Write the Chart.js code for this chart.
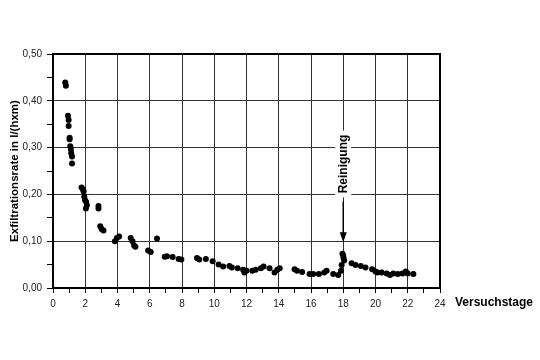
<!DOCTYPE html>
<html>
<head>
<meta charset="utf-8">
<script src="https://cdn.jsdelivr.net/npm/chart.js@4.4.1/dist/chart.umd.min.js"></script>
<style>
  html, body { margin: 0; background: #fff; }
</style>
</head>
<body>
<canvas id="chart" width="540" height="360"></canvas>
<script>
// Versuchstage (x) und Exfiltrationsrate in l/(hxm) (y)
const days = [
  0.76, 0.80, 0.93, 0.97, 0.97, 1.03, 1.03, 1.07, 1.11, 1.13, 1.18, 1.18,
  1.77, 1.86, 1.90, 1.94, 1.98, 2.06, 2.10, 2.04, 2.82, 2.82, 2.93, 3.01, 3.13,
  3.84, 3.96, 4.10, 4.82, 4.93, 5.03, 5.11,
  5.90, 6.06, 6.45, 6.93, 7.07, 7.42, 7.79, 7.96, 8.93, 9.07, 9.48, 9.90, 10.27, 10.55,
  10.94, 11.09, 11.45, 11.79, 11.87, 12.00, 12.36, 12.57, 12.89, 13.06, 13.43, 13.74,
  13.91, 14.06, 14.98, 15.13, 15.45, 15.91,
  16.14, 16.49, 16.82, 16.97, 17.38, 17.69, 17.86, 17.90, 17.95, 18.00, 18.02, 18.06,
  18.52, 18.76, 19.09, 19.38, 19.79, 20.00,
  20.12, 20.38, 20.69, 20.90, 21.10, 21.38, 21.67, 21.88, 22.00, 22.35
];
const rates = [
  0.439, 0.432, 0.368, 0.359, 0.346, 0.321, 0.318, 0.303, 0.296, 0.288, 0.281, 0.266,
  0.215, 0.211, 0.206, 0.195, 0.188, 0.184, 0.177, 0.170, 0.175, 0.170, 0.132, 0.126, 0.123,
  0.100, 0.107, 0.110, 0.107, 0.100, 0.091, 0.088,
  0.080, 0.077, 0.106, 0.067, 0.068, 0.066, 0.062, 0.061, 0.064, 0.061, 0.062, 0.057, 0.050, 0.046,
  0.047, 0.044, 0.042, 0.039, 0.033, 0.037, 0.037, 0.039, 0.042, 0.046, 0.042, 0.033,
  0.039, 0.042, 0.040, 0.037, 0.034, 0.030,
  0.030, 0.030, 0.033, 0.037, 0.030, 0.028, 0.037, 0.049, 0.073, 0.069, 0.064, 0.059,
  0.053, 0.049, 0.047, 0.044, 0.040, 0.035,
  0.033, 0.033, 0.031, 0.028, 0.031, 0.030, 0.031, 0.035, 0.031, 0.030
];

const xMin = 0, xMax = 24, xLabelStep = 2;
const yMin = 0, yMax = 0.5, yLabelStep = 0.1;
const cleaningDay = 18;
const cleaningLabel = 'Reinigung';
const xTitle = 'Versuchstage';
const yTitle = 'Exfiltrationsrate in l/(hxm)';

const fontFamily = '"Liberation Sans", Arial, sans-serif';

// Rahmen, Pfeil "Reinigung" und Beschriftung "Versuchstage"
const decorations = {
  id: 'decorations',
  afterDraw(chart) {
    const { ctx, chartArea: a, scales } = chart;
    ctx.save();
    ctx.strokeStyle = '#000';
    ctx.lineWidth = 2;
    ctx.strokeRect(a.left, a.top, a.right - a.left, a.bottom - a.top);

    const x = scales.x.getPixelForValue(cleaningDay);
    const textMid = scales.y.getPixelForValue(0.265);
    ctx.font = 'bold 12px ' + fontFamily;
    const w = ctx.measureText(cleaningLabel).width;
    ctx.fillStyle = '#fff';
    ctx.fillRect(x - 8, textMid - w / 2 - 4, 16, w + 8);

    ctx.translate(x, textMid);
    ctx.rotate(-Math.PI / 2);
    ctx.fillStyle = '#000';
    ctx.textAlign = 'center';
    ctx.textBaseline = 'middle';
    ctx.fillText(cleaningLabel, 0, 0);
    ctx.setTransform(1, 0, 0, 1, 0, 0);

    const y0 = scales.y.getPixelForValue(0.185);
    const y1 = scales.y.getPixelForValue(0.098);
    ctx.strokeStyle = '#000';
    ctx.lineWidth = 1.5;
    ctx.beginPath();
    ctx.moveTo(x, y0);
    ctx.lineTo(x, y1 - 9);
    ctx.stroke();
    ctx.beginPath();
    ctx.moveTo(x - 3.5, y1 - 10);
    ctx.lineTo(x + 3.5, y1 - 10);
    ctx.lineTo(x, y1);
    ctx.closePath();
    ctx.fill();

    ctx.font = 'bold 12px ' + fontFamily;
    ctx.textAlign = 'left';
    ctx.textBaseline = 'middle';
    ctx.fillText(xTitle, a.right + 15, a.bottom + 15);
    ctx.restore();
  }
};

const points = days.map((d, i) => ({ x: d, y: rates[i] }));

new Chart(document.getElementById('chart'), {
  type: 'scatter',
  data: {
    datasets: [{
      data: points,
      backgroundColor: '#000',
      borderWidth: 0,
      pointRadius: 3,
      pointHoverRadius: 3
    }]
  },
  options: {
    responsive: false,
    animation: false,
    layout: { padding: { top: 54, right: 100, bottom: 42, left: 0 } },
    plugins: { legend: { display: false }, tooltip: { enabled: false } },
    scales: {
      x: {
        type: 'linear',
        min: xMin,
        max: xMax,
        afterFit(scale) { scale.height = 30; },
        ticks: {
          stepSize: 1,
          autoSkip: false,
          maxRotation: 0,
          padding: 5,
          color: '#222',
          font: { family: fontFamily, size: 10 },
          callback: v => (v % xLabelStep === 0 ? String(v) : '')
        },
        grid: {
          color: c => (c.tick && c.tick.value % xLabelStep === 0 ? '#333' : 'rgba(0,0,0,0)'),
          tickColor: '#000',
          tickLength: 5,
          lineWidth: 1
        },
        border: { color: '#000', width: 2 }
      },
      y: {
        min: yMin,
        max: yMax,
        afterFit(scale) { scale.width = 53; },
        ticks: {
          stepSize: 0.05,
          autoSkip: false,
          padding: 5,
          color: '#222',
          font: { family: fontFamily, size: 10 },
          callback: v => (Math.round(v * 100) % Math.round(yLabelStep * 100) === 0
            ? v.toFixed(2).replace('.', ',') : '')
        },
        grid: {
          color: c => (c.tick && Math.round(c.tick.value * 100) % 10 === 0 ? '#333' : 'rgba(0,0,0,0)'),
          tickColor: '#000',
          tickLength: 6,
          lineWidth: 1
        },
        border: { color: '#000', width: 2 },
        title: {
          display: true,
          text: yTitle,
          color: '#000',
          font: { family: fontFamily, size: 11.5, weight: 'bold' },
          padding: { top: 8, bottom: 0 }
        }
      }
    }
  },
  plugins: [decorations]
});
</script>
</body>
</html>
